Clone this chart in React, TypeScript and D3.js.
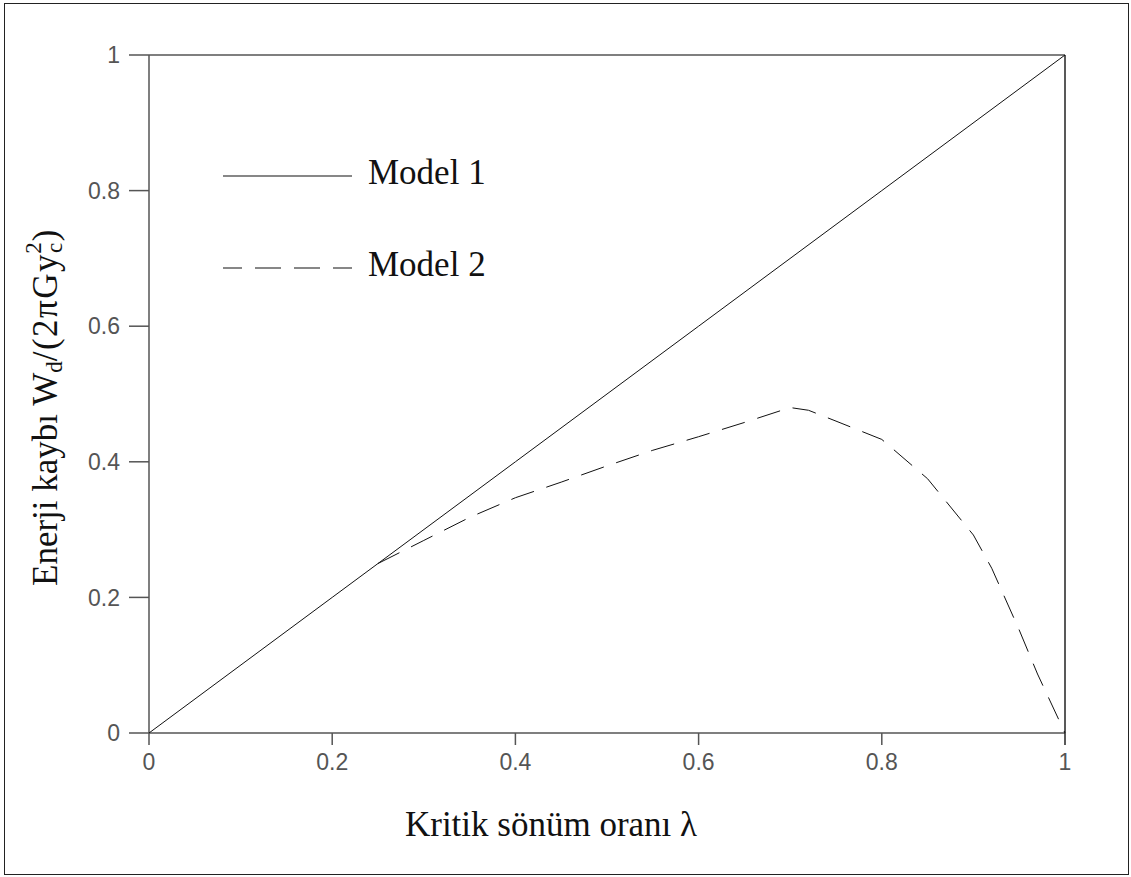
import { useMemo } from "react";
import * as d3 from "d3";

const WIDTH = 1131;
const HEIGHT = 877;

// Model 1: straight line W = lambda
const model1X = [0, 0.2, 0.4, 0.6, 0.8, 1];
const model1Y = [0, 0.2, 0.4, 0.6, 0.8, 1];

// Model 2
const model2X = [0.25, 0.3, 0.35, 0.4, 0.45, 0.5, 0.55, 0.6, 0.65, 0.7, 0.72, 0.75, 0.8, 0.85, 0.9, 0.92, 0.95, 0.97, 1.0];
const model2Y = [0.25, 0.284, 0.318, 0.347, 0.37, 0.394, 0.417, 0.437, 0.458, 0.48, 0.476, 0.46, 0.433, 0.375, 0.292, 0.243, 0.152, 0.087, 0];

const xTicks = [0, 0.2, 0.4, 0.6, 0.8, 1];
const yTicks = [0, 0.2, 0.4, 0.6, 0.8, 1];

const legendItems = ["Model 1", "Model 2"];

const PLOT = { left: 149, right: 1065, top: 55, bottom: 733 };
const AXIS_COLOR = "#555";
const TICK_FONT = "'Liberation Sans Narrow', 'Liberation Sans', sans-serif";
const SERIF = "'Liberation Serif', 'Times New Roman', serif";
const DASH = "24,13";

export default function App() {
  const x = useMemo(() => d3.scaleLinear().domain([0, 1]).range([PLOT.left, PLOT.right]), []);
  const y = useMemo(() => d3.scaleLinear().domain([0, 1]).range([PLOT.bottom, PLOT.top]), []);

  const line = d3
    .line<[number, number]>()
    .x((d) => x(d[0]))
    .y((d) => y(d[1]));

  const path1 = line(model1X.map((v, i) => [v, model1Y[i]]));
  const path2 = line(model2X.map((v, i) => [v, model2Y[i]]));

  return (
    <svg
      width={WIDTH}
      height={HEIGHT}
      style={{ position: "absolute", left: 0, top: 0, background: "#fff" }}
    >
      <rect x={4.5} y={3.5} width={1124} height={871} fill="none" stroke="#222" strokeWidth={1} />

      {/* frame */}
      <line x1={x(0)} x2={x(1)} y1={y(1)} y2={y(1)} stroke={AXIS_COLOR} strokeWidth={1.5} />
      <line x1={x(1)} x2={x(1)} y1={y(1)} y2={y(0)} stroke="#222" strokeWidth={1.5} />
      <line x1={x(0)} x2={x(1)} y1={y(0)} y2={y(0)} stroke={AXIS_COLOR} strokeWidth={1.5} />
      <line x1={x(0)} x2={x(0)} y1={y(1)} y2={y(0)} stroke={AXIS_COLOR} strokeWidth={1.5} />

      {/* y ticks */}
      {yTicks.map((t) => (
        <g key={"y" + t}>
          <line x1={x(0) - 20} x2={x(0)} y1={y(t)} y2={y(t)} stroke={AXIS_COLOR} strokeWidth={1.5} />
          <text
            x={120}
            y={y(t)}
            dy="0.36em"
            textAnchor="end"
            fontFamily={TICK_FONT}
            fontSize={23}
            fill="#555"
          >
            {String(t)}
          </text>
        </g>
      ))}

      {/* x ticks */}
      {xTicks.map((t) => (
        <g key={"x" + t}>
          <line x1={x(t)} x2={x(t)} y1={y(0)} y2={y(0) + 12} stroke={t === 1 ? "#222" : AXIS_COLOR} strokeWidth={1.5} />
          <text
            x={x(t)}
            y={770}
            textAnchor="middle"
            fontFamily={TICK_FONT}
            fontSize={23}
            fill="#555"
          >
            {String(t)}
          </text>
        </g>
      ))}

      {/* series */}
      <path d={path1 ?? ""} fill="none" stroke="#111" strokeWidth={1} />
      <path d={path2 ?? ""} fill="none" stroke="#111" strokeWidth={1} strokeDasharray={DASH} />

      {/* legend */}
      {legendItems.map((name, i) => {
        const ly = 176 + i * 92;
        return (
          <g key={name}>
            <line
              x1={223}
              x2={352}
              y1={ly}
              y2={ly}
              stroke="#111"
              strokeWidth={1.2}
              strokeDasharray={i === 1 ? "26,13" : undefined}
              strokeDashoffset={i === 1 ? 7 : 0}
            />
            <text x={368} y={ly + 8} fontFamily={SERIF} fontSize={35} fill="#111">
              {name}
            </text>
          </g>
        );
      })}

      {/* axis titles */}
      <text x={551} y={836} textAnchor="middle" fontFamily={SERIF} fontSize={35} fill="#111">
        Kritik sönüm oranı λ
      </text>
      <text
        transform="translate(57,586) rotate(-90)"
        textAnchor="start"
        fontFamily={SERIF}
        fontSize={35}
        fill="#111"
      >
        {"Enerji kaybı "}
        <tspan>W</tspan>
        <tspan fontSize={23} dy={5}>d</tspan>
        <tspan dy={-5} letterSpacing={1.5}>/(2πGy</tspan>
        <tspan fontSize={23} dy={5}>c</tspan>
        <tspan fontSize={23} dy={-21} dx={-11}>2</tspan>
        <tspan dy={16} dx={1}>)</tspan>
      </text>
    </svg>
  );
}
